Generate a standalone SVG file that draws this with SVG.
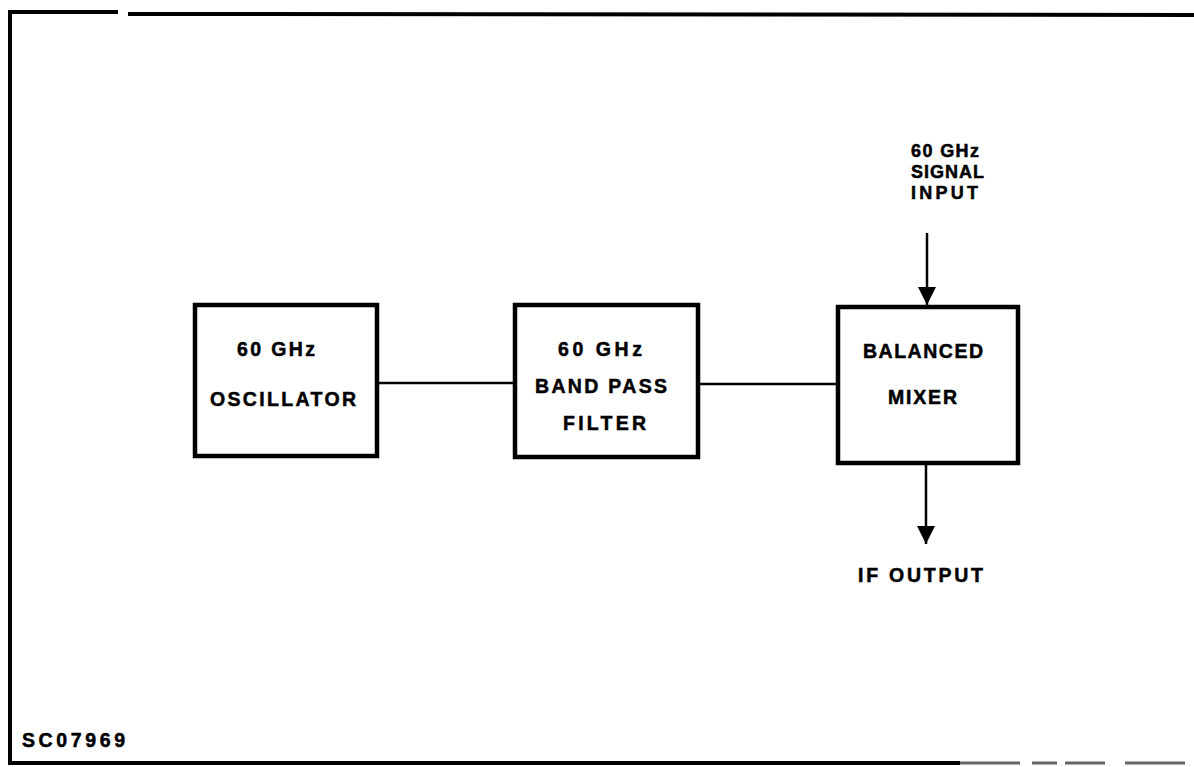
<svg xmlns="http://www.w3.org/2000/svg" width="1194" height="767" viewBox="0 0 1194 767">
<defs>
<style>
.box{fill:#fff;stroke:#000;stroke-width:4.5}
.ln{stroke:#000;stroke-width:2.5;fill:none}
.fr{stroke:#000;stroke-width:4;fill:none}
text{font-family:"Liberation Sans",Arial,sans-serif;font-weight:bold;font-size:19.5px;fill:#000;stroke:#000;stroke-width:0.5}
.sm{font-size:18px}
</style>
<marker id="ah" viewBox="0 0 18 18" refX="18" refY="9" markerWidth="18" markerHeight="18" markerUnits="userSpaceOnUse" orient="auto">
<path d="M0,0 L18,9 L0,18 Z" fill="#000"/>
</marker>
</defs>
<rect width="1194" height="767" fill="#fff"/>
<g id="frame">
<path class="fr" d="M118,12 L10,12 L10,763 L960,763"/>
<path class="fr" d="M128,14 L1194,15"/>
<path d="M960,763 L1194,763" stroke="#666" stroke-width="3" stroke-dasharray="60,12,25,8,40,20"/>
<text x="22" y="747" textLength="103" lengthAdjust="spacing">SC07969</text>
</g>
<g id="connectors">
<line class="ln" x1="377" y1="383" x2="515" y2="383"/>
<line class="ln" x1="698" y1="384" x2="838" y2="384"/>
<line class="ln" x1="927" y1="233" x2="927" y2="305" marker-end="url(#ah)"/>
<line class="ln" x1="926" y1="464" x2="926" y2="544" marker-end="url(#ah)"/>
</g>
<g id="oscillator">
<rect class="box" x="195" y="305" width="182" height="151"/>
<text x="237" y="356" textLength="78" lengthAdjust="spacing">60 GHz</text>
<text x="210" y="406" textLength="146" lengthAdjust="spacing">OSCILLATOR</text>
</g>
<g id="filter">
<rect class="box" x="515" y="305" width="183" height="152"/>
<text x="558" y="356" textLength="84" lengthAdjust="spacing">60 GHz</text>
<text x="535" y="393" textLength="132" lengthAdjust="spacing">BAND PASS</text>
<text x="563" y="430" textLength="83" lengthAdjust="spacing">FILTER</text>
</g>
<g id="mixer">
<rect class="box" x="838" y="307" width="180" height="156"/>
<text x="863" y="358" textLength="120" lengthAdjust="spacing">BALANCED</text>
<text x="888" y="404" textLength="69" lengthAdjust="spacing">MIXER</text>
</g>
<g id="signal-input">
<text class="sm" x="911" y="157" textLength="68" lengthAdjust="spacing">60 GHz</text>
<text class="sm" x="911" y="178" textLength="73" lengthAdjust="spacing">SIGNAL</text>
<text class="sm" x="911" y="199" textLength="67" lengthAdjust="spacing">INPUT</text>
</g>
<g id="if-output">
<text x="858" y="582" textLength="125" lengthAdjust="spacing">IF OUTPUT</text>
</g>
</svg>
